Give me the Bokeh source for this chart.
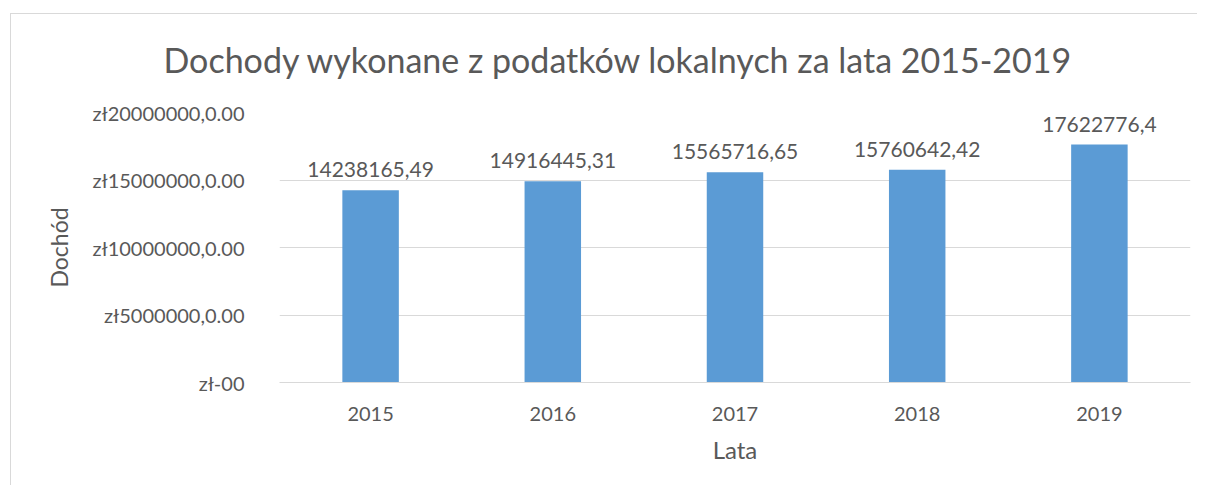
from bokeh.plotting import figure
from bokeh.models import ColumnDataSource, FactorRange, Range1d, FixedTicker, LabelSet
from bokeh.core.properties import value
from bokeh.embed import file_html
from bokeh.resources import INLINE

years = ["2015", "2016", "2017", "2018", "2019"]
values = [14238165.49, 14916445.31, 15565716.65, 15760642.42, 17622776.4]
value_labels = ["14238165,49", "14916445,31", "15565716,65", "15760642,42", "17622776,4"]
y_ticks = [0, 5000000, 10000000, 15000000, 20000000]
y_tick_labels = ["zł-00", "zł5000000,0.00", "zł10000000,0.00", "zł15000000,0.00", "zł20000000,0.00"]
title_text = "Dochody wykonane z podatków lokalnych za lata 2015-2019"
x_title = "Lata"
y_title = "Dochód"

FONT = "Lato"
TXT = "#595959"
GRID = "#D9D9D9"
BAR = "#5B9BD5"

W, H = 1197, 485
p = figure(x_range=FactorRange(*years, range_padding=0), y_range=Range1d(0, 20000000),
           width=W, height=H, output_backend="svg", toolbar_location=None,
           min_border_left=279, min_border_right=7, min_border_top=112, min_border_bottom=103)
p.styles = {"background": "linear-gradient(#D9D9D9,#D9D9D9) 10px 13px / 100% 1px no-repeat, "
                          "linear-gradient(#D9D9D9,#D9D9D9) 10px 13px / 1px 100% no-repeat, #ffffff"}
p.outline_line_color = None
p.background_fill_color = "white"
p.border_fill_color = None

p.title.text = title_text
p.title.align = "left"
p.title.offset = -116
p.title.text_font = FONT
p.title.text_font_size = "34px"
p.title.text_font_style = "normal"
p.title.text_color = TXT
p.title.vertical_align = "bottom"
p.title.standoff = 66

src = ColumnDataSource(dict(x=years, top=values, lab=value_labels))
p.vbar(x="x", top="top", width=0.31, source=src, fill_color=BAR, line_color=None)

p.add_layout(LabelSet(x="x", y="top", text="lab", source=src, text_align="center",
                      text_baseline="bottom", y_offset=13, text_font=value(FONT),
                      text_font_size=value("21px"), text_color=TXT))

p.xgrid.grid_line_color = None
p.ygrid.grid_line_color = GRID
p.ygrid.grid_line_width = 1
p.ygrid.ticker = FixedTicker(ticks=y_ticks)

ya = p.yaxis[0]
ya.ticker = FixedTicker(ticks=y_ticks)
ya.major_label_overrides = {t: l for t, l in zip(y_ticks, y_tick_labels)}
ya.axis_line_color = None
ya.major_tick_line_color = None
ya.minor_tick_line_color = None
ya.major_label_standoff = 29
ya.major_label_text_font = FONT
ya.major_label_text_font_size = "20px"
ya.major_label_text_color = TXT
ya.axis_label = y_title
ya.axis_label_text_font = FONT
ya.axis_label_text_font_size = "23px"
ya.axis_label_text_font_style = "normal"
ya.axis_label_text_color = TXT
ya.axis_label_standoff = 16

xa = p.xaxis[0]
xa.axis_line_color = GRID
xa.axis_line_width = 1
xa.major_tick_line_color = None
xa.minor_tick_line_color = None
xa.major_label_standoff = 18
xa.major_label_text_font = FONT
xa.major_label_text_font_size = "20px"
xa.major_label_text_color = TXT
xa.axis_label = x_title
xa.axis_label_text_font = FONT
xa.axis_label_text_font_size = "24px"
xa.axis_label_text_font_style = "normal"
xa.axis_label_text_color = TXT
xa.axis_label_standoff = 11

open("out.html", "w").write(file_html(p, INLINE))
